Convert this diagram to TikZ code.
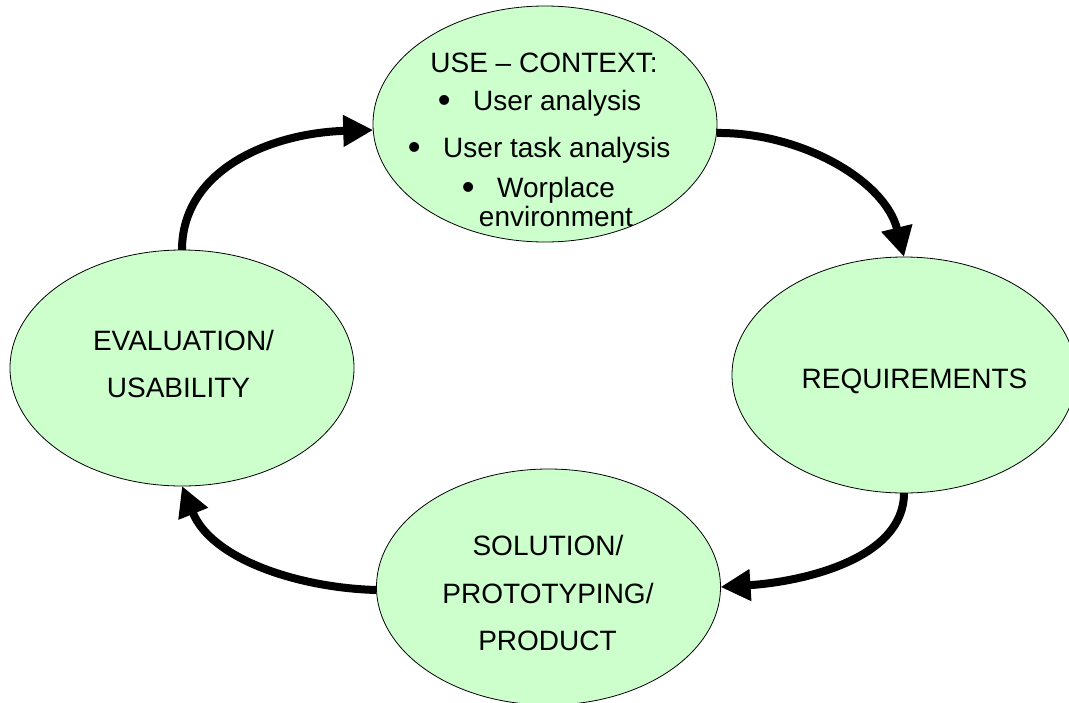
\documentclass[tikz,border=0pt]{standalone}
\usepackage{fontspec}
\setmainfont{Liberation Sans}
\usetikzlibrary{arrows.meta,shapes.geometric}
\definecolor{bubblegreen}{HTML}{CCFFCC}
\newcommand{\bigdot}{\raisebox{-2pt}{\scalebox{1.3}{•}}\hspace{22.7pt}}
\begin{document}
\begin{tikzpicture}[x=1pt,y=-1pt,
  bubble/.style={ellipse, draw=black, line width=0.8pt, fill=bubblegreen,
    minimum width=344pt, minimum height=236pt, inner sep=0pt, outer sep=0pt},
  lbl/.style={anchor=base, font=\fontsize{28}{34}\selectfont, inner sep=0pt},
  lblw/.style={lbl, anchor=base west},
  flow/.style={line width=8pt, -{Triangle[length=30pt,width=30pt]}}]
\useasboundingbox (0,0) rectangle (1069,702);
% ellipses
\node[bubble] (use) at (545,124) {};
\node[bubble] (req) at (904,375) {};
\node[bubble] (sol) at (548.5,587) {};
\node[bubble] (eval) at (182,368) {};
% texts of the use-context ellipse
\node[lbl] (t1) at (544,72) {USE – CONTEXT:};
\node[lblw] (t2) at (437.6,110) {\bigdot User analysis};
\node[lblw] (t3) at (407.6,157) {\bigdot User task analysis};
\node[lblw] (t4) at (461.6,197) {\bigdot Worplace};
\node[lbl] (t5) at (556,226) {environment};
% other texts
\node[lbl] (r1) at (914.5,388) {REQUIREMENTS};
\node[lbl] (s1) at (548,555) {SOLUTION/};
\node[lbl] (s2) at (548,603) {PROTOTYPING/};
\node[lbl] (s3) at (547.5,650) {PRODUCT};
\node[lbl] (e1) at (183.5,350) {EVALUATION/};
\node[lbl] (e2) at (178.5,397) {USABILITY};
% arrows
\draw[flow] (eval.north) .. controls (182,170) and (270,133) .. (use.182);
\draw[flow] (use.-3) .. controls (800,132) and (885,180) .. (req.north);
\draw[flow] (req.south) .. controls (904,560) and (800,582) .. (sol.east);
\draw[flow] (sol.181) .. controls (300,588) and (212,560) .. (eval.south);
\end{tikzpicture}
\end{document}
